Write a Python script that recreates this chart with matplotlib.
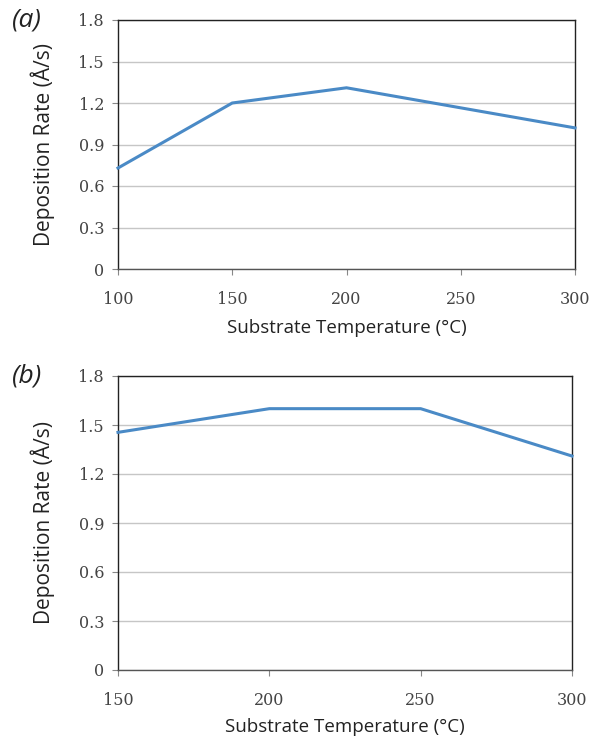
import matplotlib
matplotlib.use('Agg')
import matplotlib.pyplot as plt

# panel (a)
temp_a = [100, 150, 200, 250, 300]
rate_a = [0.73, 1.20, 1.31, 1.165, 1.02]
xticks_a = [100, 150, 200, 250, 300]

# panel (b)
temp_b = [150, 200, 250, 300]
rate_b = [1.455, 1.60, 1.60, 1.31]
xticks_b = [150, 200, 250, 300]

yticks = [0, 0.3, 0.6, 0.9, 1.2, 1.5, 1.8]
ytick_labels = ['0', '0.3', '0.6', '0.9', '1.2', '1.5', '1.8']

line_color = '#4a8ac6'
label_font = 'Open Sans'
tick_font = 'DejaVu Serif'

fig = plt.figure(figsize=(5.92, 7.37), dpi=100)
W, H = 592, 737


def make_axes(left, top, right, bottom):
    return fig.add_axes([left / W, 1 - bottom / H, (right - left) / W, (bottom - top) / H])


def style(ax, x, y, xt, tag, xpad):
    ax.plot(x, y, color=line_color, lw=2.2, solid_joinstyle='miter', clip_on=False, zorder=3)
    ax.set_xlim(xt[0], xt[-1])
    ax.set_ylim(0, 1.8)
    ax.set_xticks(xt)
    ax.set_xticklabels([str(v) for v in xt])
    ax.set_yticks(yticks)
    ax.set_yticklabels(ytick_labels)
    ax.grid(axis='y', color='#c6c6c6', lw=1.0)
    ax.set_axisbelow(True)
    for s in ax.spines.values():
        s.set_color('#222222')
        s.set_linewidth(1.0)
    ax.spines['bottom'].set_color('#555555')
    ax.tick_params(axis='both', colors='#888888', length=4, width=0.8, labelsize=11.5,
                   labelcolor='#444444')
    ax.tick_params(axis='x', pad=12)
    ax.tick_params(axis='y', pad=6)
    for t in ax.get_xticklabels() + ax.get_yticklabels():
        t.set_family(tick_font)
        t.set_fontweight('light')
    ax.set_ylabel('Deposition Rate (Å/s)', fontsize=15, family=label_font, color='#222222', labelpad=17)
    ax.set_xlabel('Substrate Temperature (°C)', fontsize=13.5, family=label_font, color='#222222', labelpad=xpad)
    ax.text(-0.233, 1.0, tag, transform=ax.transAxes, fontsize=19, style='italic',
            family=label_font, color='#222222', va='center', ha='left')


ax1 = make_axes(118, 20, 575, 269)
style(ax1, temp_a, rate_a, xticks_a, '(a)', 8)

ax2 = make_axes(118, 376, 572, 670)
style(ax2, temp_b, rate_b, xticks_b, '(b)', 6)

fig.savefig('out.png', dpi=100, facecolor='white')
